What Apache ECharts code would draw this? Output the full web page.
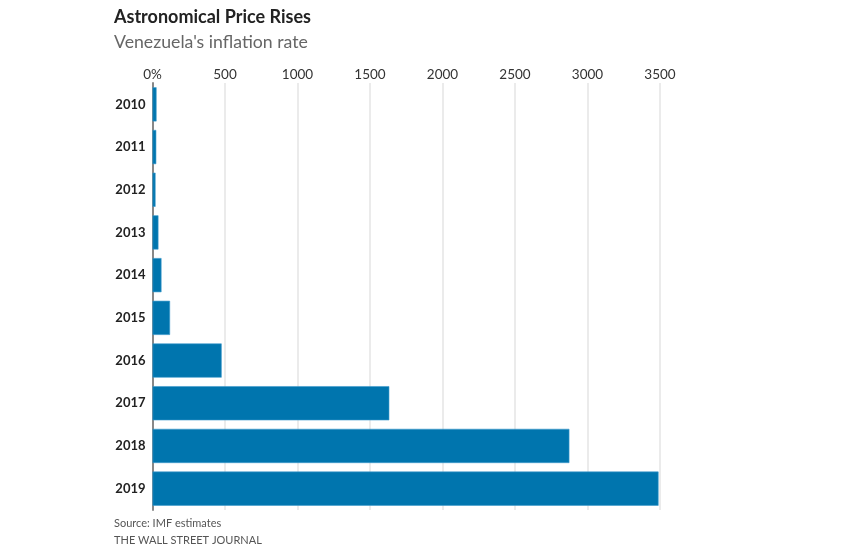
<!DOCTYPE html>
<html><head><meta charset="utf-8">
<script src="https://cdn.jsdelivr.net/npm/echarts@6/dist/echarts.min.js"></script>
<style>html,body{margin:0;padding:0;background:#fff}#c{width:853px;height:549px}</style>
</head><body><div id="c"></div>
<script>
const years = ['2010','2011','2012','2013','2014','2015','2016','2017','2018','2019'];
const inflation = [28, 26, 21, 41, 62, 121, 477, 1633, 2875, 3490];
const ticks = [0, 500, 1000, 1500, 2000, 2500, 3000, 3500];

const chart = echarts.init(document.getElementById('c'));
chart.setOption({
  animation: false,
  backgroundColor: '#fff',
  title: [
    {text: 'Astronomical Price Rises', left: 109, top: 3,
     textStyle: {fontFamily: 'Lato', fontWeight: 'bold', fontSize: 18, color: '#222'}},
    {text: "Venezuela's inflation rate", left: 109, top: 28,
     textStyle: {fontFamily: 'Lato', fontWeight: 'normal', fontSize: 17.7, color: '#666'}},
    {text: 'Source: IMF estimates', left: 109, top: 513,
     textStyle: {fontFamily: 'Lato', fontWeight: 'normal', fontSize: 11, color: '#555'}},
    {text: 'THE WALL STREET JOURNAL', left: 109, top: 530,
     textStyle: {fontFamily: 'Lato', fontWeight: 'normal', fontSize: 11, color: '#555'}}
  ],
  grid: {left: 152.5, right: 193, top: 83, bottom: 39, containLabel: false},
  xAxis: {
    type: 'value', position: 'top', min: 0, max: 3500, interval: 500,
    axisLine: {show: false}, axisTick: {show: false},
    splitLine: {lineStyle: {color: '#e4e4e4', width: 1.5}},
    axisLabel: {
      margin: 1, fontFamily: 'Lato', fontSize: 13.5, color: '#333',
      formatter: v => ticks.includes(v) ? (v === 0 ? '0%' : String(v)) : ''
    }
  },
  yAxis: {
    type: 'category', data: years, inverse: true,
    axisLine: {lineStyle: {color: '#888', width: 2}},
    axisTick: {show: false},
    axisLabel: {margin: 7, fontFamily: 'Lato', fontWeight: 'bold', fontSize: 13, color: '#222'}
  },
  series: [{
    type: 'bar', data: inflation, barCategoryGap: '20%',
    itemStyle: {color: '#0075ae', borderColor: '#3c9bcc', borderWidth: 0.6}
  }]
});
</script></body></html>
